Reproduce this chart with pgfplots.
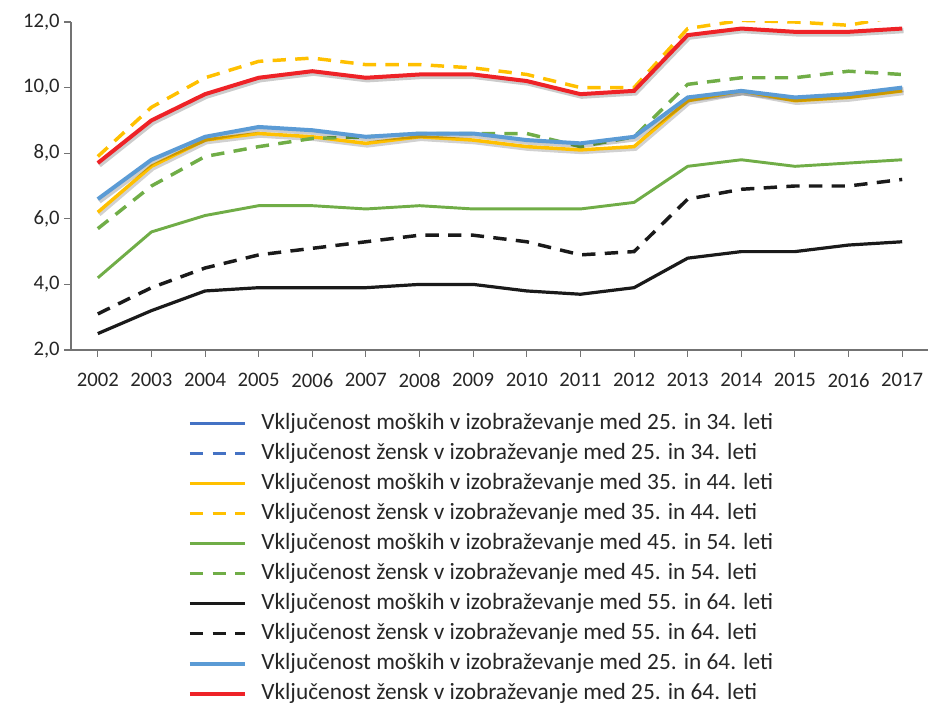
\documentclass[border=0pt]{standalone}
\usepackage{fontspec}
\setmainfont{Carlito}
\usepackage{pgfplots}
\pgfplotsset{compat=1.18}
\definecolor{dblue}{HTML}{4472C4}
\definecolor{cyel}{HTML}{FFC000}
\definecolor{cgreen}{HTML}{70AD47}
\definecolor{cblack}{HTML}{1A1A1A}
\definecolor{lblue}{HTML}{5B9BD5}
\definecolor{cred}{HTML}{EE2227}
\definecolor{txt}{HTML}{262626}
\begin{document}
\begin{tikzpicture}
\begin{axis}[
  at={(0,0)}, anchor=south west,
  width=643.5pt, height=246pt, scale only axis,
  xmin=2001.5, xmax=2017.5, ymin=2, ymax=12,
  axis x line*=bottom, axis y line*=left,
  xtick={2002,2003,...,2017}, ytick={2,4,...,12},
  /pgf/number format/assume math mode=true,
  x tick label style={/pgf/number format/1000 sep={}, yshift=-9pt},
  y tick label style={/pgf/number format/.cd, fixed, fixed zerofill, precision=1, use comma},
  tick label style={font=\fontsize{15.5}{18}\selectfont, text=txt},
  tick align=outside, major tick length=5pt,
  axis line style={black!55, line width=0.8pt},
  tick style={black!55, line width=0.8pt},
  legend style={at={(0.136,-0.189)}, anchor=north west, draw=none, fill=none,
    font=\fontsize{17.5}{21}\selectfont, text=txt, row sep=5.5pt,
    inner sep=0pt,
    nodes={inner sep=0pt, text height=13pt, text depth=4pt}},
  legend cell align=left,
  legend image code/.code={\draw[#1] (0pt,0pt) -- (41pt,0pt); \path (52pt,0pt);},
]
\addlegendimage{dblue, line width=2.6pt}
\addlegendentry{Vključenost moških v izobraževanje med 25. in 34. leti}
\addlegendimage{dblue, line width=2.6pt, dash pattern=on 10pt off 7pt}
\addlegendentry{Vključenost žensk v izobraževanje med 25. in 34. leti}

% men 35-44 (shadow)
\addplot[black, opacity=0.18, line width=3.4pt, xshift=1pt, yshift=-1.5pt, forget plot] coordinates {
(2002,6.2)(2003,7.6)(2004,8.4)(2005,8.6)(2006,8.5)(2007,8.3)(2008,8.5)(2009,8.4)(2010,8.2)(2011,8.1)(2012,8.2)(2013,9.6)(2014,9.9)(2015,9.6)(2016,9.7)(2017,9.9)};
\addplot[cyel, line width=2.6pt] coordinates {
(2002,6.2)(2003,7.6)(2004,8.4)(2005,8.6)(2006,8.5)(2007,8.3)(2008,8.5)(2009,8.4)(2010,8.2)(2011,8.1)(2012,8.2)(2013,9.6)(2014,9.9)(2015,9.6)(2016,9.7)(2017,9.9)};
\addlegendentry{Vključenost moških v izobraževanje med 35. in 44. leti}
\addplot[cyel, line width=2.6pt, dash pattern=on 10pt off 7pt] coordinates {
(2002,7.9)(2003,9.4)(2004,10.3)(2005,10.8)(2006,10.9)(2007,10.7)(2008,10.7)(2009,10.6)(2010,10.4)(2011,10.0)(2012,10.0)(2013,11.8)(2014,12.05)(2015,12.0)(2016,11.9)(2017,12.2)};
\addlegendentry{Vključenost žensk v izobraževanje med 35. in 44. leti}
\addplot[cgreen, line width=2.2pt] coordinates {
(2002,4.2)(2003,5.6)(2004,6.1)(2005,6.4)(2006,6.4)(2007,6.3)(2008,6.4)(2009,6.3)(2010,6.3)(2011,6.3)(2012,6.5)(2013,7.6)(2014,7.8)(2015,7.6)(2016,7.7)(2017,7.8)};
\addlegendentry{Vključenost moških v izobraževanje med 45. in 54. leti}
\addplot[cgreen, line width=2.6pt, dash pattern=on 10pt off 7pt] coordinates {
(2002,5.7)(2003,7.0)(2004,7.9)(2005,8.2)(2006,8.45)(2007,8.5)(2008,8.6)(2009,8.6)(2010,8.6)(2011,8.2)(2012,8.5)(2013,10.1)(2014,10.3)(2015,10.3)(2016,10.5)(2017,10.4)};
\addlegendentry{Vključenost žensk v izobraževanje med 45. in 54. leti}
\addplot[cblack, line width=2.4pt] coordinates {
(2002,2.5)(2003,3.2)(2004,3.8)(2005,3.9)(2006,3.9)(2007,3.9)(2008,4.0)(2009,4.0)(2010,3.8)(2011,3.7)(2012,3.9)(2013,4.8)(2014,5.0)(2015,5.0)(2016,5.2)(2017,5.3)};
\addlegendentry{Vključenost moških v izobraževanje med 55. in 64. leti}
\addplot[cblack, line width=2.6pt, dash pattern=on 10pt off 7pt] coordinates {
(2002,3.1)(2003,3.9)(2004,4.5)(2005,4.9)(2006,5.1)(2007,5.3)(2008,5.5)(2009,5.5)(2010,5.3)(2011,4.9)(2012,5.0)(2013,6.6)(2014,6.9)(2015,7.0)(2016,7.0)(2017,7.2)};
\addlegendentry{Vključenost žensk v izobraževanje med 55. in 64. leti}
% men 25-64 (shadow)
\addplot[black, opacity=0.2, line width=4pt, xshift=1pt, yshift=-1.5pt, forget plot] coordinates {
(2002,6.6)(2003,7.8)(2004,8.5)(2005,8.8)(2006,8.7)(2007,8.5)(2008,8.6)(2009,8.6)(2010,8.4)(2011,8.3)(2012,8.5)(2013,9.7)(2014,9.9)(2015,9.7)(2016,9.8)(2017,10.0)};
\addplot[lblue, line width=3pt] coordinates {
(2002,6.6)(2003,7.8)(2004,8.5)(2005,8.8)(2006,8.7)(2007,8.5)(2008,8.6)(2009,8.6)(2010,8.4)(2011,8.3)(2012,8.5)(2013,9.7)(2014,9.9)(2015,9.7)(2016,9.8)(2017,10.0)};
\addlegendentry{Vključenost moških v izobraževanje med 25. in 64. leti}
% women 25-64 (shadow)
\addplot[black, opacity=0.2, line width=4pt, xshift=1pt, yshift=-1.5pt, forget plot] coordinates {
(2002,7.7)(2003,9.0)(2004,9.8)(2005,10.3)(2006,10.5)(2007,10.3)(2008,10.4)(2009,10.4)(2010,10.2)(2011,9.8)(2012,9.9)(2013,11.6)(2014,11.8)(2015,11.7)(2016,11.7)(2017,11.8)};
\addplot[cred, line width=3pt] coordinates {
(2002,7.7)(2003,9.0)(2004,9.8)(2005,10.3)(2006,10.5)(2007,10.3)(2008,10.4)(2009,10.4)(2010,10.2)(2011,9.8)(2012,9.9)(2013,11.6)(2014,11.8)(2015,11.7)(2016,11.7)(2017,11.8)};
\addlegendentry{Vključenost žensk v izobraževanje med 25. in 64. leti}
\end{axis}
\pgfresetboundingbox
\path[use as bounding box] (-53.25pt,-267pt) rectangle (642.75pt,262.5pt);
\end{tikzpicture}
\end{document}
